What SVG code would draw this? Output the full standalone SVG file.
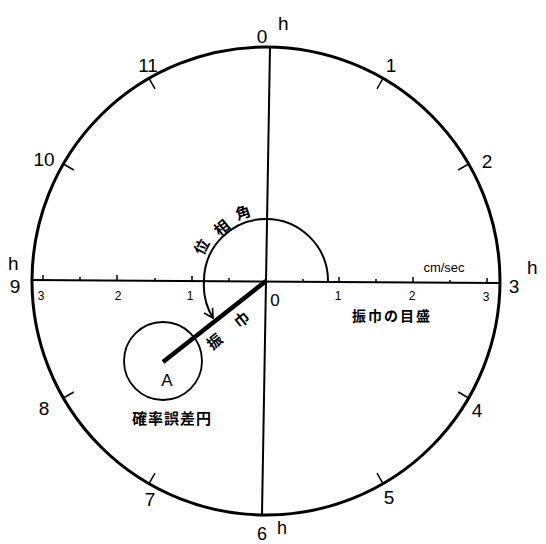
<svg xmlns="http://www.w3.org/2000/svg" width="546" height="544" viewBox="0 0 546 544">
<style>
.ln{stroke:#000;fill:none}
.t{font-family:"Liberation Sans",Arial,sans-serif;fill:#000}
.hr{font-size:19px;text-anchor:middle}
.sc{font-size:12px;text-anchor:middle}
.j{font-family:"Noto Sans CJK JP","Noto Sans CJK SC",sans-serif;fill:#000;font-weight:bold}
</style>
<defs>
<marker id="ah" markerWidth="12" markerHeight="12" refX="10" refY="6" orient="auto" markerUnits="userSpaceOnUse">
<path d="M1,1 L10,6 L1,11" fill="none" stroke="#000" stroke-width="1.6"/>
</marker>
</defs>
<rect width="546" height="544" fill="#fff"/>
<g id="dial">
<circle class="ln" cx="266" cy="281" r="234" stroke-width="3"/>
</g>
<g id="connectors">
<line class="ln" x1="270" y1="47" x2="262" y2="515" stroke-width="2"/>
<line class="ln" x1="31" y1="280" x2="499" y2="283" stroke-width="2"/>
<g stroke="#000" stroke-width="1.5">
<line x1="383" y1="78.4" x2="377" y2="88.8"/>
<line x1="468.6" y1="164" x2="458.2" y2="170"/>
<line x1="468.6" y1="398" x2="458.2" y2="392"/>
<line x1="383" y1="483.6" x2="377" y2="473.2"/>
<line x1="149" y1="483.6" x2="155" y2="473.2"/>
<line x1="63.4" y1="398" x2="73.8" y2="392"/>
<line x1="63.4" y1="164" x2="73.8" y2="170"/>
<line x1="149" y1="78.4" x2="155" y2="88.8"/>
</g>
<g stroke="#000" stroke-width="1.5">
<line x1="43" y1="280" x2="43" y2="275"/>
<line x1="80" y1="280" x2="80" y2="277"/>
<line x1="117" y1="280" x2="117" y2="275"/>
<line x1="155" y1="281" x2="155" y2="278"/>
<line x1="192" y1="281" x2="192" y2="276"/>
<line x1="229" y1="281" x2="229" y2="278"/>
<line x1="303" y1="282" x2="303" y2="279"/>
<line x1="339" y1="282" x2="339" y2="277"/>
<line x1="376" y1="282" x2="376" y2="279"/>
<line x1="413" y1="282" x2="413" y2="277"/>
<line x1="450" y1="283" x2="450" y2="280"/>
<line x1="487" y1="283" x2="487" y2="278"/>
</g>
<path class="ln" d="M328,281 A62,62 0 1 0 204,281 A62,62 0 0 0 213,318" stroke-width="2" marker-end="url(#ah)"/>
<line class="ln" x1="266" y1="281" x2="163" y2="362" stroke-width="4.5"/>
</g>
<g id="error-circle">
<circle class="ln" cx="163" cy="361" r="39" stroke-width="1.8"/>
<text class="t" x="167" y="386" font-size="17" text-anchor="middle">A</text>
<text class="j" x="172" y="424" font-size="15" text-anchor="middle" letter-spacing="1">確率誤差円</text>
</g>
<g id="labels">
<text class="t hr" x="262" y="43">0</text>
<text class="t" x="278" y="30" font-size="19">h</text>
<text class="t hr" x="514" y="293">3</text>
<text class="t" x="527" y="274" font-size="19">h</text>
<text class="t" x="262" y="540" font-size="18" text-anchor="middle">6</text>
<text class="t" x="277" y="534" font-size="18">h</text>
<text class="t" x="8" y="270" font-size="19">h</text>
<text class="t hr" x="15" y="293">9</text>
<text class="t hr" x="391" y="72">1</text>
<text class="t hr" x="487" y="168">2</text>
<text class="t hr" x="477" y="417">4</text>
<text class="t hr" x="389" y="504">5</text>
<text class="t hr" x="150" y="506">7</text>
<text class="t hr" x="44" y="415">8</text>
<text class="t hr" x="44" y="166">10</text>
<text class="t hr" x="148" y="72">11</text>
<text class="t sc" x="41" y="300">3</text>
<text class="t sc" x="118" y="300">2</text>
<text class="t sc" x="190" y="300">1</text>
<text class="t sc" x="338" y="300">1</text>
<text class="t sc" x="412" y="300">2</text>
<text class="t sc" x="486" y="301">3</text>
<text class="t" x="275" y="306" font-size="17" text-anchor="middle">0</text>
<text class="t" x="444" y="272" font-size="13" text-anchor="middle">cm/sec</text>
<text class="j" x="392" y="321" font-size="14" text-anchor="middle" letter-spacing="2">振巾の目盛</text>
<text class="j" font-size="15" text-anchor="middle" transform="translate(202,247) rotate(-62)" dy="5">位</text>
<text class="j" font-size="15" text-anchor="middle" transform="translate(222,228) rotate(-40)" dy="5">相</text>
<text class="j" font-size="15" text-anchor="middle" transform="translate(243,213) rotate(-19)" dy="5">角</text>
<text class="j" font-size="15" text-anchor="middle" transform="translate(215,342) rotate(-38.5)" dy="5">振</text>
<text class="j" font-size="15" text-anchor="middle" transform="translate(242,320) rotate(-38.5)" dy="5">巾</text>
</g>
</svg>
